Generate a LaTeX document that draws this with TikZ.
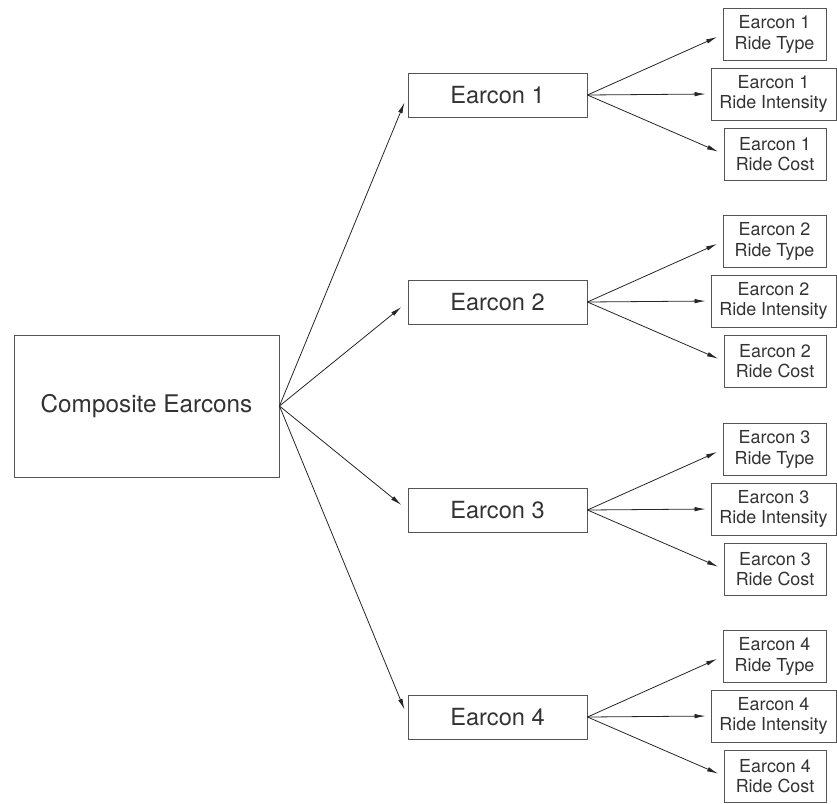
\documentclass[tikz,border=0pt]{standalone}
\usepackage{fontspec}
\setmainfont{TeX Gyre Heros}
\usetikzlibrary{arrows.meta}
\definecolor{txt}{HTML}{333333}
\definecolor{bord}{HTML}{555555}
\tikzset{
  bigbox/.style={draw=bord, line width=0.9pt, rectangle, inner sep=0pt, text=txt,
    font=\fontsize{24.3}{28}\selectfont, minimum width=265pt, minimum height=142pt},
  midbox/.style={draw=bord, line width=0.9pt, rectangle, inner sep=0pt, text=txt,
    font=\fontsize{23.6}{28}\selectfont, minimum width=179pt, minimum height=44pt},
  leafbox/.style={draw=bord, line width=0.9pt, rectangle, inner sep=0pt, text=txt,
    align=center, font=\fontsize{17.9}{20.5}\selectfont, minimum height=52pt},
  conn/.style={draw=black!85, line width=0.8pt, -{Latex[length=11pt,width=4.5pt]}},
}
\begin{document}
\begin{tikzpicture}[x=1pt,y=-1pt]
\useasboundingbox (0,0) rectangle (837,803);
\node[bigbox] (comp) at (146.5,406) {Composite Earcons};
\foreach \k/\c in {1/95,2/302,3/510,4/717}{
  \node[midbox] (e\k) at (497.5,\c) {Earcon \k};
  \node[leafbox, minimum width=103pt] (t\k) at (774.5,\c-60.5) {Earcon \k\\Ride Type};
  \node[leafbox, minimum width=125pt] (i\k) at (773.5,\c-1) {Earcon \k\\Ride Intensity};
  \node[leafbox, minimum width=102pt] (c\k) at (775,\c+59) {Earcon \k\\Ride Cost};
  \draw[conn, shorten >=8pt] (comp.east) -- (e\k.west);
  \draw[conn, shorten >=6pt] (e\k.east) -- (t\k.west);
  \draw[conn, shorten >=5pt] (e\k.east) -- (i\k.west);
  \draw[conn, shorten >=6pt] (e\k.east) -- (c\k.west);
}
\end{tikzpicture}
\end{document}
